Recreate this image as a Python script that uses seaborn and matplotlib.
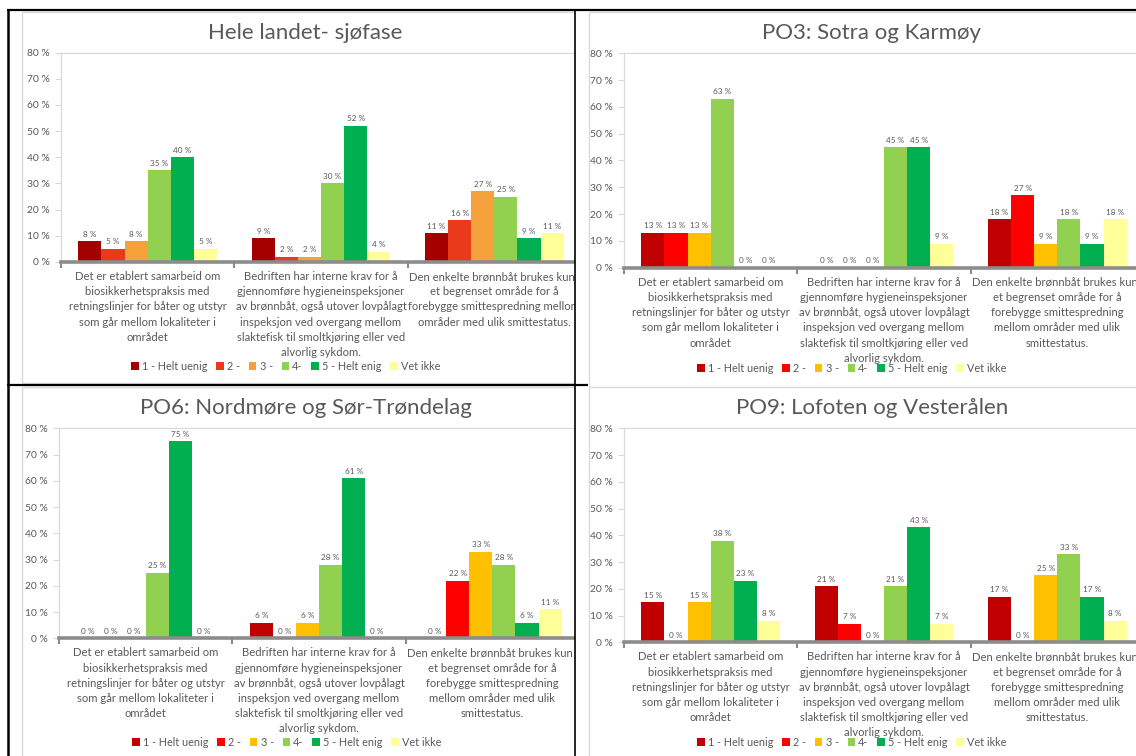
import matplotlib
matplotlib.use("Agg")
import matplotlib.pyplot as plt
from matplotlib.patches import Patch, Rectangle
from matplotlib.lines import Line2D
import seaborn as sns
import pandas as pd

# ---- answer levels -------------------------------------------------------
levels = ["1 - Helt uenig", "2 -", "3 -", "4-", "5 - Helt enig", "Vet ikke"]

# ---- statements (x categories) -------------------------------------------
statement_1 = ("Det er etablert samarbeid om\nbiosikkerhetspraksis med\n"
               "retningslinjer for båter og utstyr\nsom går mellom lokaliteter i\nområdet")
statement_2 = ("Bedriften har interne krav for å\ngjennomføre hygieneinspeksjoner\n"
               "av brønnbåt, også utover lovpålagt\ninspeksjon ved overgang mellom\n"
               "slaktefisk til smoltkjøring eller ved\nalvorlig sykdom.")
statement_3_wide = ("Den enkelte brønnbåt brukes kun i\net begrenset område for å\n"
                    "forebygge smittespredning mellom\nområder med ulik smittestatus.")
statement_3 = ("Den enkelte brønnbåt brukes kun i\net begrenset område for å\n"
               "forebygge smittespredning\nmellom områder med ulik\nsmittestatus.")

# ---- panel titles --------------------------------------------------------
titles = ["Hele landet- sjøfase", "PO3: Sotra og Karmøy",
          "PO6: Nordmøre og Sør-Trøndelag", "PO9: Lofoten og Vesterålen"]

# ---- shares in percent: one row per statement, one value per level -------
hele_landet = [[8, 5, 8, 35, 40, 5],
               [9, 2, 2, 30, 52, 4],
               [11, 16, 27, 25, 9, 11]]
po3 = [[13, 13, 13, 63, 0, 0],
       [0, 0, 0, 45, 45, 9],
       [18, 27, 9, 18, 9, 18]]
po6 = [[0, 0, 0, 25, 75, 0],
       [6, 0, 6, 28, 61, 0],
       [0, 22, 33, 28, 6, 11]]
po9 = [[15, 0, 15, 38, 23, 8],
       [21, 7, 0, 21, 43, 7],
       [17, 0, 25, 33, 17, 8]]

# ---- colours ---------------------------------------------------------------
colors_national = ["#A50000", "#EA3A1C", "#F5A23C", "#92D050", "#00B050", "#FFFF99"]
colors_regional = ["#C00000", "#FF0000", "#FFC000", "#92D050", "#00B050", "#FFFF99"]

TEXT = "#595959"
LIGHT = "#D9D9D9"
AXIS = "#8C8C8C"

W, H = 1136, 756
sns.set_theme(style="white")
plt.rcParams["font.family"] = ["Lato", "DejaVu Sans"]

fig = plt.figure(figsize=(W / 100, H / 100), dpi=100)
fig.patch.set_facecolor("white")


def fx(x):
    return x / W


def fy(y):
    return 1 - y / H


def add_panel(rect_px, title, title_xy, legend_xy, rows, cats, colors, z):
    left, right, top, bottom = rect_px
    ax = fig.add_axes([fx(left), fy(bottom), fx(right) - fx(left), fy(top) - fy(bottom)])
    ax.set_zorder(z)

    df = pd.DataFrame(
        [(cats[i], levels[j], rows[i][j]) for i in range(len(cats)) for j in range(len(levels))],
        columns=["statement", "level", "share"],
    )
    sns.barplot(data=df, x="statement", y="share", hue="level", order=cats,
                hue_order=levels, palette=dict(zip(levels, colors)), width=0.8,
                saturation=1, linewidth=0, ax=ax, legend=False)

    for cont in ax.containers:
        ax.bar_label(cont, fmt="%.0f %%", padding=2.5, fontsize=5.9, color=TEXT)

    ax.set_ylim(0, 80)
    ax.set_xlim(-0.5, len(cats) - 0.5)
    ax.set_yticks(range(0, 81, 10))
    ax.set_yticklabels([f"{v} %" for v in range(0, 81, 10)])
    ax.set_xticks(range(len(cats)))
    ax.set_xticklabels(cats, fontsize=8.1, color=TEXT, linespacing=1.47)
    ax.set_xlabel("")
    ax.set_ylabel("")
    ax.tick_params(axis="y", which="major", length=4, width=0.8, color=LIGHT,
                   labelsize=7.4, labelcolor=TEXT, pad=4, left=True)
    ax.tick_params(axis="x", which="major", length=0, pad=6.5)
    ax.set_xticks([i - 0.5 for i in range(len(cats) + 1)], minor=True)
    ax.tick_params(axis="x", which="minor", length=4, width=1.5, color=AXIS,
                   bottom=True)
    for side in ["left", "top", "right"]:
        ax.spines[side].set_color(LIGHT)
        ax.spines[side].set_linewidth(0.9)
    ax.spines["bottom"].set_color(AXIS)
    ax.spines["bottom"].set_linewidth(2.6)
    ax.grid(False)

    fig.text(fx(title_xy[0]), fy(title_xy[1]), title, ha="center", va="center",
             fontsize=16, color=TEXT, zorder=z)

    handles = [Patch(facecolor=c, edgecolor="none") for c in colors]
    ax.legend(handles, levels, loc="center", ncol=6, frameon=False,
              bbox_to_anchor=(fx(legend_xy[0]), fy(legend_xy[1])),
              bbox_transform=fig.transFigure, fontsize=7.8, labelcolor=TEXT,
              handlelength=0.7, handleheight=0.7, handletextpad=0.3,
              columnspacing=0.8, borderpad=0)
    return ax


cats_a = [statement_1, statement_2, statement_3_wide]
cats_b = [statement_1, statement_2, statement_3]

# left column first, then a white cover for the right cell, then right column
add_panel((61, 581, 52.5, 262), titles[0], (305, 33), (286, 366.5),
          hele_landet, cats_a, colors_national, 1)
add_panel((59, 579, 428.3, 638.3), titles[2], (306, 408), (287, 742),
          po6, cats_b, colors_regional, 1)

fig.add_artist(Rectangle((fx(575), 0), 1 - fx(575), 1, transform=fig.transFigure,
                         facecolor="white", edgecolor="none", zorder=2))

add_panel((624, 1144, 53.3, 267.7), titles[1], (872, 33), (852, 368),
          po3, cats_b, colors_regional, 3)
add_panel((624, 1144, 428.3, 642.3), titles[3], (872, 408), (852, 742),
          po9, cats_b, colors_regional, 3)


def fig_line(x0, y0, x1, y1, color, lw, z=6):
    fig.add_artist(Line2D([fx(x0), fx(x1)], [fy(y0), fy(y1)], transform=fig.transFigure,
                          color=color, linewidth=lw, zorder=z, solid_capstyle="butt"))


# chart-area outlines
fig_line(22, 12, 575, 12, LIGHT, 1.0, 5)
fig_line(22, 12, 22, 383, LIGHT, 1.0, 5)
fig_line(22, 383, 575, 383, LIGHT, 1.0, 5)
fig_line(588.5, 12, 1136, 12, LIGHT, 1.0, 5)
fig_line(588.5, 12, 588.5, 756, LIGHT, 1.0, 5)
fig_line(588.5, 386.5, 1136, 386.5, LIGHT, 1.0, 5)
fig_line(22, 387, 575, 387, LIGHT, 1.0, 5)
fig_line(22, 387, 22, 756, LIGHT, 1.0, 5)

# table borders
fig_line(7, 10, 1136, 10, "black", 1.6)
fig_line(7.5, 10, 7.5, 756, "black", 1.8)
fig_line(574.5, 10, 574.5, 756, "black", 1.2)
fig_line(7, 385.3, 588, 385.3, "black", 1.6)

fig.savefig("out.png", dpi=100, facecolor="white")
